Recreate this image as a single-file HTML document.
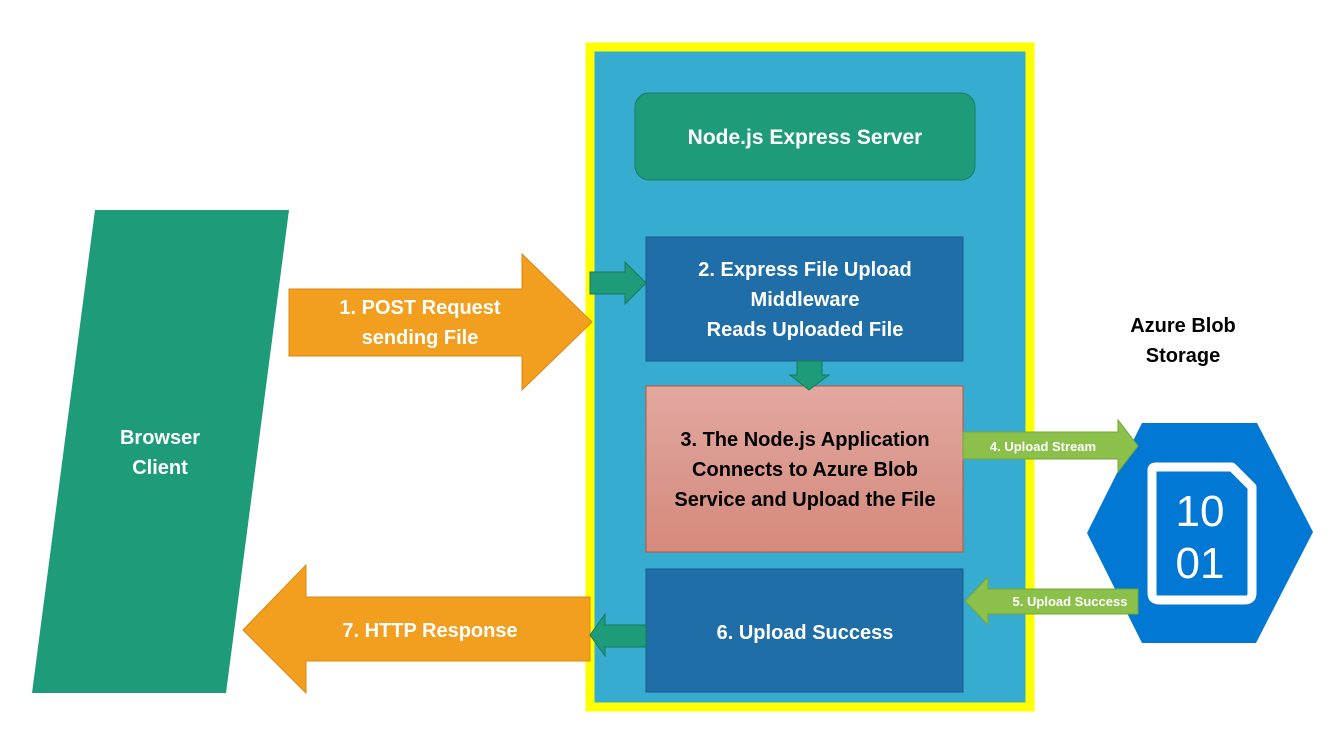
<!DOCTYPE html>
<html><head><style>
body{margin:0;width:1332px;height:746px;background:#fff;overflow:hidden;font-family:"Liberation Sans",sans-serif;}
</style></head><body>
<svg width="1332" height="746" viewBox="0 0 1332 746" xmlns="http://www.w3.org/2000/svg" font-family="Liberation Sans, sans-serif" font-weight="bold">
<defs>
<linearGradient id="g3" x1="0" y1="0" x2="0" y2="1"><stop offset="0" stop-color="#E2A8A0"/><stop offset="1" stop-color="#D4897B"/></linearGradient>
</defs>
<rect x="590" y="47" width="440" height="660" fill="#36ADD0" stroke="#FFFF00" stroke-width="9"/>
<rect x="635" y="93" width="340" height="87" rx="14" fill="#1E9B78" stroke="#178060"/>
<text x="805" y="144" fill="#fff" font-size="21" text-anchor="middle">Node.js Express Server</text>
<polygon points="95,210 289,210 226,693 32,693" fill="#1E9B78"/>
<text x="160" y="444" fill="#fff" font-size="20" text-anchor="middle">Browser</text>
<text x="160" y="474" fill="#fff" font-size="20" text-anchor="middle">Client</text>
<polygon points="289,289 522,289 522,254 592,322 522,390 522,356 289,356" fill="#F29E1E" stroke="#D88A10"/>
<text x="420" y="314" fill="#fff" font-size="20" text-anchor="middle">1. POST Request</text>
<text x="420" y="344" fill="#fff" font-size="20" text-anchor="middle">sending File</text>
<polygon points="243,630 306,565 306,597 590,597 590,661 306,661 306,693" fill="#F29E1E" stroke="#D88A10"/>
<text x="430" y="637" fill="#fff" font-size="20" text-anchor="middle">7. HTTP Response</text>
<rect x="646" y="237" width="317" height="124" fill="#1F6EA8" stroke="#1A5A8A"/>
<text x="805" y="276" fill="#fff" font-size="20" text-anchor="middle">2. Express File Upload</text>
<text x="805" y="306" fill="#fff" font-size="20" text-anchor="middle">Middleware</text>
<text x="805" y="336" fill="#fff" font-size="20" text-anchor="middle">Reads Uploaded File</text>
<rect x="646" y="386" width="317" height="166" fill="url(#g3)" stroke="#C8502E"/>
<text x="805" y="446" fill="#000" font-size="20" text-anchor="middle">3. The Node.js Application</text>
<text x="805" y="476" fill="#000" font-size="20" text-anchor="middle">Connects to Azure Blob</text>
<text x="805" y="506" fill="#000" font-size="20" text-anchor="middle">Service and Upload the File</text>
<rect x="646" y="569" width="317" height="123" fill="#1F6EA8" stroke="#1A5A8A"/>
<text x="805" y="639" fill="#fff" font-size="20" text-anchor="middle">6. Upload Success</text>
<polygon points="590,272 625,272 625,262 646,283 625,304 625,294 590,294" fill="#1E9B78" stroke="#167a5c"/>
<polygon points="797,361 822,361 822,375 829,375 809,390 790,375 797,375" fill="#1E9B78" stroke="#167a5c"/>
<polygon points="590,635 605,614 605,625 646,625 646,647 605,647 605,656" fill="#1E9B78" stroke="#167a5c"/>
<polygon points="1087,533 1142,423 1257,423 1313,532 1256,643 1142,643" fill="#0078D4"/>
<path d="M1152,470 Q1152,467 1156,467 L1232,467 L1252,487 L1252,593 Q1252,600 1245,600 L1159,600 Q1152,600 1152,593 Z" fill="none" stroke="#fff" stroke-width="9" stroke-linejoin="round"/>
<text x="1200" y="526" fill="#fff" font-size="44" font-weight="normal" text-anchor="middle">10</text>
<text x="1200" y="578" fill="#fff" font-size="44" font-weight="normal" text-anchor="middle">01</text>
<polygon points="963,432 1118,432 1118,420 1138,446 1118,472 1118,459 963,459" fill="#8BC04A" stroke="#74A53A"/>
<text x="1043" y="451" fill="#fff" font-size="13" text-anchor="middle">4. Upload Stream</text>
<polygon points="965,601 988,577 988,589 1138,589 1138,614 988,614 988,625" fill="#8BC04A" stroke="#74A53A"/>
<text x="1070" y="606" fill="#fff" font-size="13" text-anchor="middle">5. Upload Success</text>
<text x="1183" y="332" fill="#000" font-size="20" text-anchor="middle">Azure Blob</text>
<text x="1183" y="362" fill="#000" font-size="20" text-anchor="middle">Storage</text>
</svg>
</body></html>
